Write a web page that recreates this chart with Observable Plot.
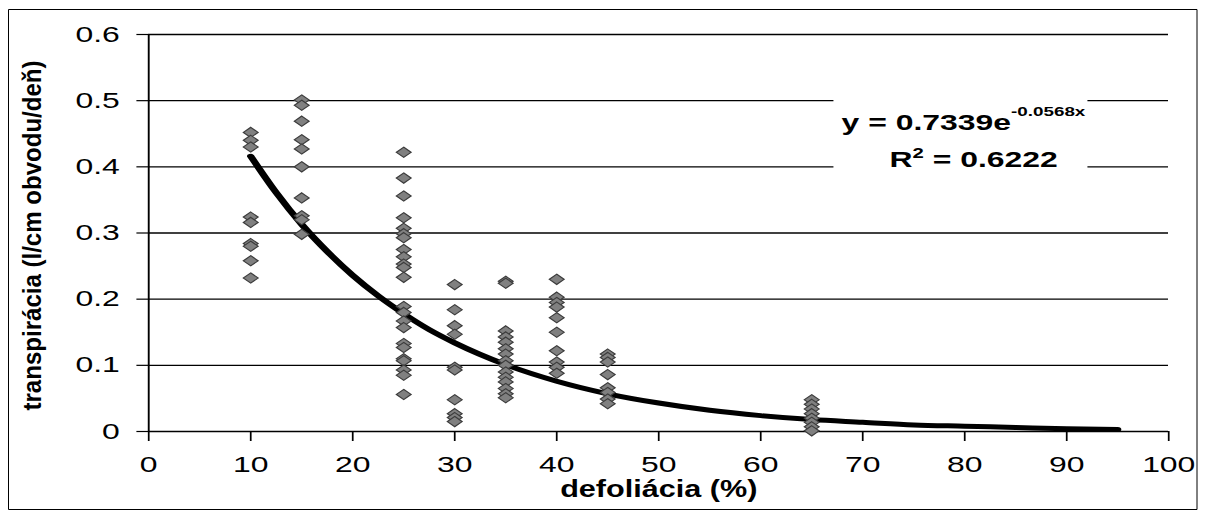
<!DOCTYPE html>
<html>
<head>
<meta charset="utf-8">
<script src="https://cdn.jsdelivr.net/npm/d3@7"></script>
<script src="https://cdn.jsdelivr.net/npm/@observablehq/plot@0.6"></script>
<style>
  html, body { margin: 0; padding: 0; background: #fff; }
</style>
</head>
<body>
<script>
// ---- data ----
const defoliacia = [10, 15, 25, 30, 35, 40, 45, 65];
const transpiracia = [
  [0.452, 0.440, 0.430, 0.324, 0.316, 0.284, 0.280, 0.258, 0.232],
  [0.501, 0.493, 0.469, 0.441, 0.427, 0.400, 0.353, 0.326, 0.320, 0.298],
  [0.422, 0.383, 0.356, 0.323, 0.307, 0.299, 0.293, 0.275, 0.264, 0.253, 0.248, 0.233,
   0.189, 0.180, 0.167, 0.157, 0.133, 0.127, 0.110, 0.107, 0.093, 0.085, 0.056],
  [0.222, 0.184, 0.160, 0.147, 0.097, 0.093, 0.048, 0.027, 0.021, 0.015],
  [0.227, 0.224, 0.152, 0.143, 0.135, 0.125, 0.117, 0.107, 0.100, 0.090, 0.082, 0.075, 0.065, 0.057, 0.051],
  [0.230, 0.203, 0.195, 0.188, 0.172, 0.150, 0.122, 0.105, 0.097, 0.088],
  [0.117, 0.112, 0.105, 0.086, 0.066, 0.059, 0.049, 0.042],
  [0.048, 0.041, 0.034, 0.027, 0.020, 0.014, 0.007, 0.001]
];
// exponential trendline, values
const trendX = [10, 12.5, 15, 17.5, 20, 22.5, 25, 27.5, 30, 35, 40, 45, 50, 55, 60, 65, 70, 75, 80, 85, 90, 95];
const trendY = [0.416, 0.361, 0.313, 0.272, 0.236, 0.205, 0.178, 0.154, 0.134, 0.101, 0.076, 0.057, 0.043, 0.032, 0.024, 0.018, 0.014, 0.010, 0.008, 0.006, 0.004, 0.003];

const xTicks = [0, 10, 20, 30, 40, 50, 60, 70, 80, 90, 100];
const yTicks = [0, 0.1, 0.2, 0.3, 0.4, 0.5, 0.6];
const yTickLabels = ["0", "0.1", "0.2", "0.3", "0.4", "0.5", "0.6"];
const xTitle = "defoliácia (%)";
const yTitle = "transpirácia (l/cm obvodu/deň)";
const eqLine1 = ["y = 0.7339e", "-0.0568x"];
const eqLine2 = ["R", "2", " = 0.6222"];
const eqX = [68.0, 72.7];
const eqY = [0.455, 0.399];
const eqBox = [{x1: 67.2, x2: 92.1, y1: 0.379, y2: 0.523}];

// ---- build tables ----
const points = [];
defoliacia.forEach((x, i) => transpiracia[i].forEach(y => points.push({x, y})));
const trend = trendX.map((x, i) => ({x, y: trendY[i]}));

const FONT = "'Liberation Sans', Arial, sans-serif";
const STRETCH = 1.45;             // original picture is stretched horizontally
const W = 1205, H = 511;
const PW = W / STRETCH;

const svg = Plot.plot({
  width: PW, height: H,
  marginLeft: 148 / STRETCH, marginRight: (W - 1168) / STRETCH,
  marginTop: 34, marginBottom: 80,
  x: {domain: [0, 100]},
  y: {domain: [0, 0.6]},
  style: {fontFamily: FONT, color: "#000", background: "#fff", overflow: "visible"},
  marks: [
    Plot.ruleY(yTicks.filter(d => d > 0), {stroke: "#000", strokeWidth: 1.3}),
    Plot.rect(eqBox, {x1: "x1", x2: "x2", y1: "y1", y2: "y2", fill: "#fff"}),
    Plot.axisY({ticks: yTicks, tickSize: 8, tickPadding: 12, strokeWidth: 1.2,
      tickFormat: d => yTickLabels[yTicks.indexOf(d)], label: null, fontSize: 22}),
    Plot.axisX({ticks: xTicks, tickSize: 10, tickPadding: 15, strokeWidth: 1.2,
      label: null, fontSize: 22}),
    Plot.ruleX([0], {stroke: "#000", strokeWidth: 1.3}),
    Plot.ruleY([0], {stroke: "#000", strokeWidth: 1.5}),
    Plot.line(trend, {x: "x", y: "y", stroke: "#000", strokeWidth: 5, curve: "monotone-x"}),
    Plot.dot(points, {x: "x", y: "y", symbol: "diamond2", r: 4.6, fill: "#808080", stroke: "#3c3c3c", strokeWidth: 1}),
    Plot.text([xTitle], {text: d => d, frameAnchor: "bottom", dy: 65.5, fontSize: 24, fontWeight: "bold"}),
    Plot.text([yTitle], {text: d => d, frameAnchor: "left", textAnchor: "start", dx: 22 - 148 / STRETCH, dy: 177.5, rotate: -90, fontSize: 18, fontWeight: "bold"})
  ]
});

svg.setAttribute("width", W);
svg.setAttribute("height", H);
svg.setAttribute("viewBox", `0 0 ${PW} ${H}`);
svg.setAttribute("preserveAspectRatio", "none");
svg.style.width = W + "px";
svg.style.height = H + "px";
svg.style.maxWidth = "none";
document.body.appendChild(svg);

const root = d3.select(svg);
root.selectAll("text").filter(function() { return this.textContent === xTitle; })
  .attr("textLength", 136).attr("lengthAdjust", "spacingAndGlyphs");
root.selectAll("text").filter(function() { return this.textContent === yTitle; })
  .attr("text-anchor", "start")
  .attr("textLength", 350).attr("lengthAdjust", "spacingAndGlyphs");

// equation annotation placed through the plot's scales
const xs = svg.scale("x"), ys = svg.scale("y");
const g = root.append("g").attr("font-family", FONT).attr("font-weight", "bold")
  .attr("fill", "#000").attr("text-anchor", "start").style("white-space", "pre");
const t1 = g.append("text").attr("x", xs.apply(eqX[0])).attr("y", ys.apply(eqY[0])).attr("font-size", 22);
t1.append("tspan").text(eqLine1[0]);
t1.append("tspan").attr("font-size", 13).attr("dy", -14).text(eqLine1[1]);
const t2 = g.append("text").attr("x", xs.apply(eqX[1])).attr("y", ys.apply(eqY[1])).attr("font-size", 22);
t2.append("tspan").text(eqLine2[0]);
t2.append("tspan").attr("font-size", 14).attr("dy", -9).text(eqLine2[1]);
t2.append("tspan").attr("dy", 9).text(eqLine2[2]);

// outer chart border
root.append("rect")
  .attr("x", 8.5 / STRETCH).attr("y", 9.5)
  .attr("width", (1197 - 8.5) / STRETCH).attr("height", 500)
  .attr("fill", "none").attr("stroke", "#000").attr("stroke-width", 1)
  .attr("vector-effect", "non-scaling-stroke");
</script>
</body>
</html>
